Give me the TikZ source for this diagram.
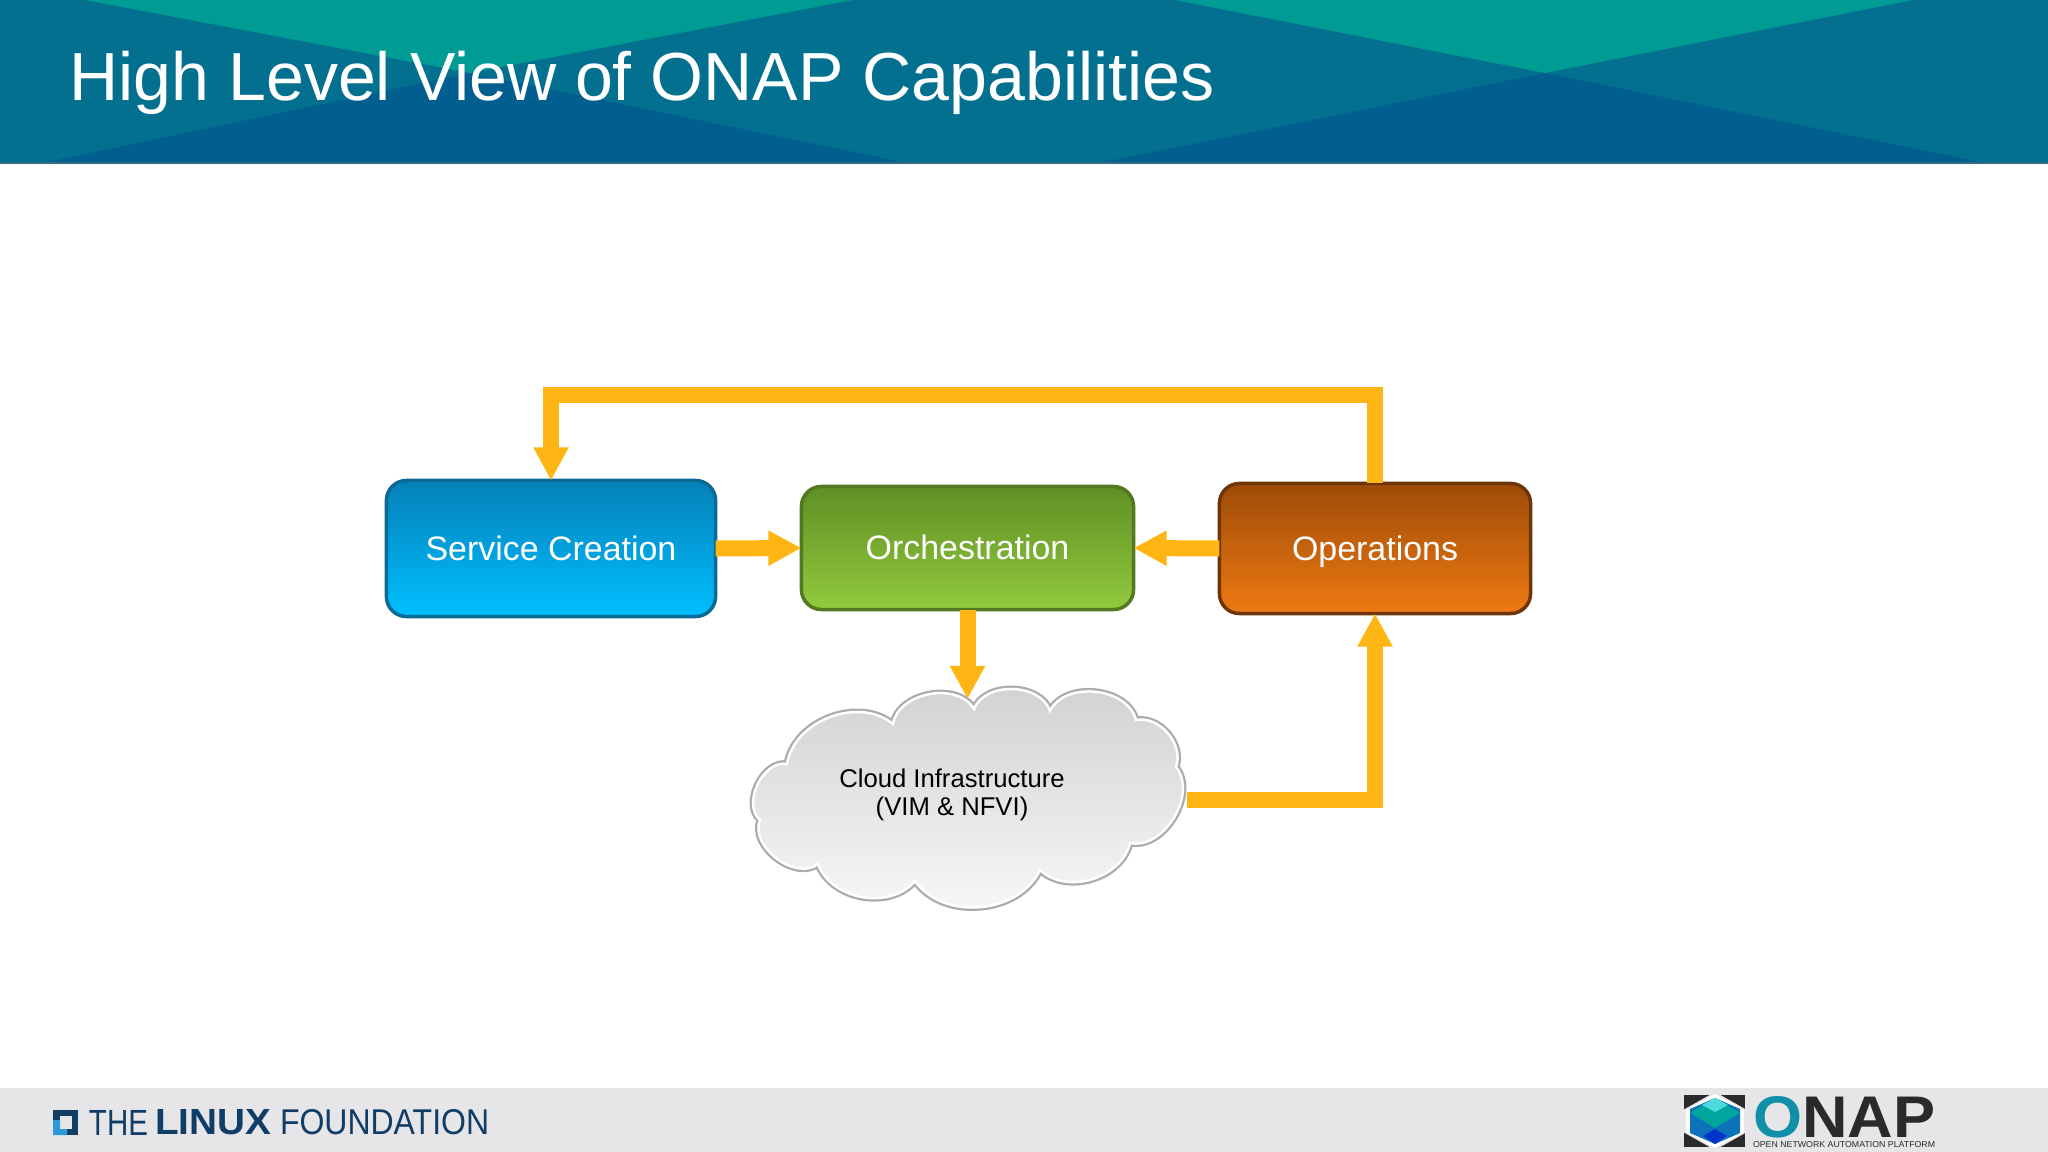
\documentclass[tikz,border=0pt]{standalone}
\usepackage{fontspec}
\setmainfont{Liberation Sans}
\usetikzlibrary{arrows.meta,calc}

\definecolor{headbase}{HTML}{03708F}
\definecolor{headteal}{HTML}{009B93}
\definecolor{headdark}{HTML}{005F8F}
\definecolor{flowamber}{HTML}{FFB514}
\definecolor{footgray}{HTML}{E6E6E8}
\definecolor{lfnavy}{HTML}{0F3D66}
\definecolor{lfblue}{HTML}{2A9BD8}
\definecolor{onapteal}{HTML}{0F8FA8}
\definecolor{onapdark}{HTML}{2A2A2C}
\definecolor{creationtop}{HTML}{0580B8}
\definecolor{creationlow}{HTML}{00BFFF}
\definecolor{creationrim}{HTML}{0A6A96}
\definecolor{orchtop}{HTML}{5F8F24}
\definecolor{orchlow}{HTML}{92CA3E}
\definecolor{orchrim}{HTML}{52791F}
\definecolor{opstop}{HTML}{9E4B08}
\definecolor{opslow}{HTML}{EE7A12}
\definecolor{opsrim}{HTML}{6E3507}

\tikzset{
  box/.style={draw,rounded corners=.2cm,line width=.035cm,inner sep=0pt,outer sep=0pt,
    text=white,text height=.25cm,text depth=.02cm,font=\fontsize{9.65}{11}\selectfont},
  flow/.style={draw=flowamber,line width=.16cm,
    -{Triangle[width=.33cm,length=.33cm,fill=flowamber]}},
  lflabel/.style={inner sep=0pt,outer sep=0pt,text=lfnavy,anchor=west},
}
% outline of the cloud, clockwise from the top
\newcommand{\cloudpath}{(974,709) to[bend left=70] (1050,711) to[bend left=70] (1136,720)
  to[bend left=60] (1176,767) to[bend left=70] (1130,843) to[bend left=60] (1040,870)
  to[bend left=60] (915,881) to[bend left=60] (818,864) to[bend left=75] (760,820)
  to[bend left=75] (787,764) to[bend left=60] (893,724) to[bend left=70] cycle}

\begin{document}
\begin{tikzpicture}
[x=.01cm,y=-.01cm]
\useasboundingbox (0,0) rectangle (2048,1152);
\fill[white] (0,0) rectangle (2048,1152);

% header band
\fill[headbase] (0,0) rectangle (2048,163);
\fill[headteal] (85,0) -- (853,0) -- (470,73) -- cycle;
\fill[headteal] (1175,0) -- (1913,0) -- (1545,73) -- cycle;
\fill[headdark] (43,163) -- (907,163) -- (470,73) -- cycle;
\fill[headdark] (1099,163) -- (1985,163) -- (1545,73) -- cycle;
\fill[headdark!60!gray] (0,162) rectangle (2048,164);
\node[anchor=base west,text=white,inner sep=0pt,font=\fontsize{19.35}{24}\selectfont] (title) at (69,101)
  {High Level View of ONAP Capabilities};

% footer band
\fill[footgray] (0,1088) rectangle (2048,1152);
\fill[lfnavy] (53,1110) rectangle (78,1135);
\fill[footgray] (60,1116) rectangle (72,1129);
\fill[lfblue] (53,1120) rectangle (60,1135) (53,1129) rectangle (67,1135);
\node[lflabel] (lfthe) at (89,1122.5) {\resizebox{.59cm}{.25cm}{THE}};
\node[lflabel] (lflinux) at (155,1122.5) {\resizebox{1.16cm}{.25cm}{\bfseries LINUX}};
\node[lflabel] (lffound) at (280,1122.5) {\resizebox{2.09cm}{.25cm}{FOUNDATION}};

\fill[onapdark] (1684,1095) rectangle (1745,1147);
\fill[footgray] (1715,1092) -- (1747,1110) -- (1747,1132) -- (1715,1150) -- (1683,1132) -- (1683,1110) -- cycle;
\fill[white] (1715,1094) -- (1744,1110) -- (1744,1132) -- (1715,1148) -- (1686,1132) -- (1686,1110) -- cycle;
\fill[onapteal!80!blue] (1715,1098) -- (1740,1109) -- (1740,1133) -- (1715,1144) -- (1690,1133) -- (1690,1109) -- cycle;
\fill[headteal!90!cyan] (1690,1113) -- (1715,1098) -- (1740,1113) -- (1715,1128) -- cycle;
\fill[teal!40!cyan!70!white] (1702,1105) -- (1715,1098) -- (1728,1105) -- (1715,1112) -- cycle;
\fill[blue!60!teal] (1703,1136) -- (1715,1129) -- (1727,1136) -- (1715,1144) -- cycle;
\node[inner sep=0pt,outer sep=0pt,anchor=west,text=onapdark] (onapname) at (1753,1117.5)
  {\resizebox{1.82cm}{.41cm}{\bfseries\textcolor{onapteal}{O}NAP}};
\node[inner sep=0pt,outer sep=0pt,anchor=west,text=onapdark] (onapsub) at (1753,1145)
  {\resizebox{1.82cm}{.06cm}{OPEN NETWORK AUTOMATION PLATFORM}};

% the three boxes
\node[box,top color=creationtop,bottom color=creationlow,draw=creationrim,
  minimum width=3.29cm,minimum height=1.36cm] (creation) at (551,548.5) {Service Creation};
\node[box,top color=orchtop,bottom color=orchlow,draw=orchrim,
  minimum width=3.32cm,minimum height=1.23cm] (orch) at (967.5,548) {Orchestration};
\node[box,top color=opstop,bottom color=opslow,draw=opsrim,
  minimum width=3.11cm,minimum height=1.30cm] (ops) at (1375,548.5) {Operations};

% cloud
\draw[line width=.07cm,gray!65] \cloudpath;
\path[top color=gray!36,bottom color=gray!5,draw=white,line width=.025cm] \cloudpath;
\node[minimum width=4.39cm,minimum height=2.02cm,inner sep=0pt,outer sep=0pt] (cloudbox) at (967.5,800) {};
\node[align=center,inner sep=0pt,font=\fontsize{7.3}{7.8}\selectfont] (cloudtext) at (952,795)
  {Cloud Infrastructure\\(VIM \& NFVI)};

% arrows
\coordinate (looptop) at (960,395);
\draw[flow] (creation.east) -- (orch.west);
\draw[flow] (ops.west) -- (orch.east);
\draw[flow] (orch.south) -- (cloudbox.north);
\draw[flow] (cloudbox.east) -| (ops.south);
\draw[flow] (ops.north) |- (looptop) -| (creation.north);
\end{tikzpicture}
\end{document}
